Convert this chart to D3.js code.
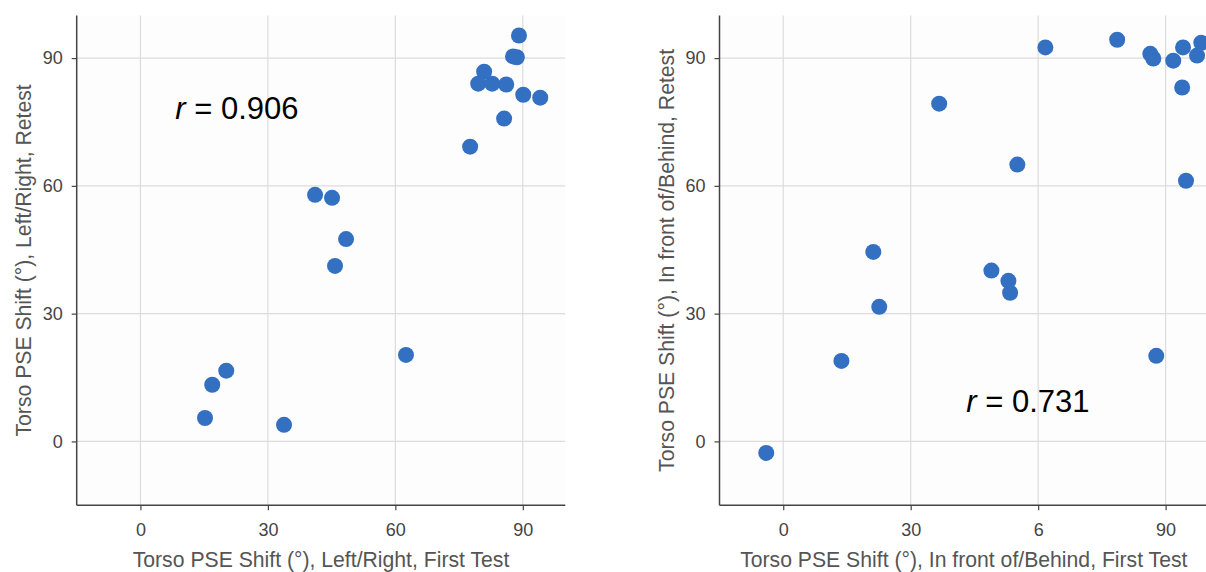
<!DOCTYPE html>
<html>
<head>
<meta charset="utf-8">
<script src="https://cdn.jsdelivr.net/npm/d3@7"></script>
<style>
    body { margin: 0; background: #fff; }
    svg { display: block; font-family: "Liberation Sans", Arial, sans-serif; }
    .tick text { fill: #444; font-size: 18px; }
    .axis-title { fill: #555; font-size: 21.2px; }
    .r-label { fill: #000; font-size: 31px; }
</style>
</head>
<body>
<svg id="chart" width="1206" height="572"></svg>
<script>
// left panel: Left/Right, first test vs retest
const lrFirst = [15.2, 16.9, 20.2, 33.8, 41.1, 45.1, 45.8, 48.4, 62.5, 77.6,
                 79.5, 80.9, 82.8, 85.6, 86.1, 87.7, 88.6, 89.1, 90.1, 94.1];
const lrRetest = [5.5, 13.3, 16.6, 3.9, 57.9, 57.2, 41.2, 47.5, 20.3, 69.2,
                  84.0, 86.8, 84.0, 75.8, 83.8, 90.4, 90.2, 95.3, 81.4, 80.7];

// right panel: In front of/Behind, first test vs retest
const fbFirst = [-4.0, 13.7, 21.2, 22.6, 36.7, 49.0, 53.0, 53.4, 55.1, 61.7,
                 78.6, 86.4, 87.1, 87.8, 91.8, 94.1, 93.9, 94.8, 97.4, 98.4];
const fbRetest = [-2.7, 18.9, 44.5, 31.6, 79.3, 40.1, 37.7, 34.9, 65.0, 92.5,
                  94.3, 91.0, 89.9, 20.1, 89.4, 92.5, 83.1, 61.2, 90.6, 93.6];

const tickValues = [0, 30, 60, 90];
const lrXTickLabels = ["0", "30", "60", "90"];
const fbXTickLabels = ["0", "30", "6", "90"];
const yTickLabels = ["0", "30", "60", "90"];

const panels = [
    { left: 76.7, xs: lrFirst, ys: lrRetest, xLabels: lrXTickLabels,
      xTitle: "Torso PSE Shift (°), Left/Right, First Test",
      yTitle: "Torso PSE Shift (°), Left/Right, Retest",
      r: "0.906", rAt: [8.2, 75.8] },
    { left: 719.5, xs: fbFirst, ys: fbRetest, xLabels: fbXTickLabels,
      xTitle: "Torso PSE Shift (°), In front of/Behind, First Test",
      yTitle: "Torso PSE Shift (°), In front of/Behind, Retest",
      r: "0.731", rAt: [43.1, 7.0] }
];

const domain = [-15, 100];
const plotW = 488.6;
const plotTop = 15.5, plotBottom = 505.3;

const svg = d3.select("#chart");

panels.forEach(function(p) {
    const x = d3.scaleLinear().domain(domain).range([p.left, p.left + plotW]);
    const y = d3.scaleLinear().domain(domain).range([plotBottom, plotTop]);

    const g = svg.append("g");

    g.append("rect")
        .attr("x", p.left)
        .attr("y", plotTop)
        .attr("width", plotW)
        .attr("height", plotBottom - plotTop)
        .attr("fill", "#fdfdfd");

    // grid
    g.selectAll(".vgrid")
        .data(tickValues)
        .enter()
        .append("line")
        .attr("x1", d => x(d)).attr("x2", d => x(d))
        .attr("y1", plotTop).attr("y2", plotBottom)
        .attr("stroke", "#dcdcdc")
        .attr("stroke-width", 1.2);

    g.selectAll(".hgrid")
        .data(tickValues)
        .enter()
        .append("line")
        .attr("x1", p.left).attr("x2", p.left + plotW)
        .attr("y1", d => y(d)).attr("y2", d => y(d))
        .attr("stroke", "#dcdcdc")
        .attr("stroke-width", 1.2);

    const xAxis = g.append("g")
        .attr("transform", `translate(0,${plotBottom})`)
        .call(d3.axisBottom(x)
            .tickValues(tickValues)
            .tickSize(5)
            .tickPadding(13)
            .tickFormat((d, k) => p.xLabels[k]));

    const yAxis = g.append("g")
        .attr("transform", `translate(${p.left},0)`)
        .call(d3.axisLeft(y)
            .tickValues(tickValues)
            .tickSize(5)
            .tickPadding(9)
            .tickFormat((d, k) => yTickLabels[k]));

    [xAxis, yAxis].forEach(function(a) {
        a.attr("font-family", null).attr("font-size", null);
        a.select(".domain").attr("stroke", "#444").attr("stroke-width", 1.5);
        a.selectAll(".tick line").attr("stroke", "#444").attr("stroke-width", 1.2);
    });
    xAxis.select(".domain").attr("d", `M${p.left},0H${p.left + plotW}`);
    yAxis.select(".domain").attr("d", `M0,${plotBottom}V${plotTop}`);

    g.selectAll(".dot")
        .data(p.xs.map((v, k) => [v, p.ys[k]]))
        .enter()
        .append("circle")
        .attr("class", "dot")
        .attr("cx", d => x(d[0]))
        .attr("cy", d => y(d[1]))
        .attr("r", 8)
        .attr("fill", "#3470c1");

    g.append("text")
        .attr("class", "axis-title")
        .attr("text-anchor", "middle")
        .attr("x", p.left + plotW / 2)
        .attr("y", 566.5)
        .text(p.xTitle);

    g.append("text")
        .attr("class", "axis-title")
        .attr("text-anchor", "middle")
        .attr("transform", `translate(${p.left - 46},${(plotTop + plotBottom) / 2}) rotate(-90)`)
        .text(p.yTitle);

    const rt = g.append("text")
        .attr("class", "r-label")
        .attr("x", x(p.rAt[0]))
        .attr("y", y(p.rAt[1]));
    rt.append("tspan").attr("font-style", "italic").text("r");
    rt.append("tspan").text(" = " + p.r);
});
</script>
</body>
</html>
